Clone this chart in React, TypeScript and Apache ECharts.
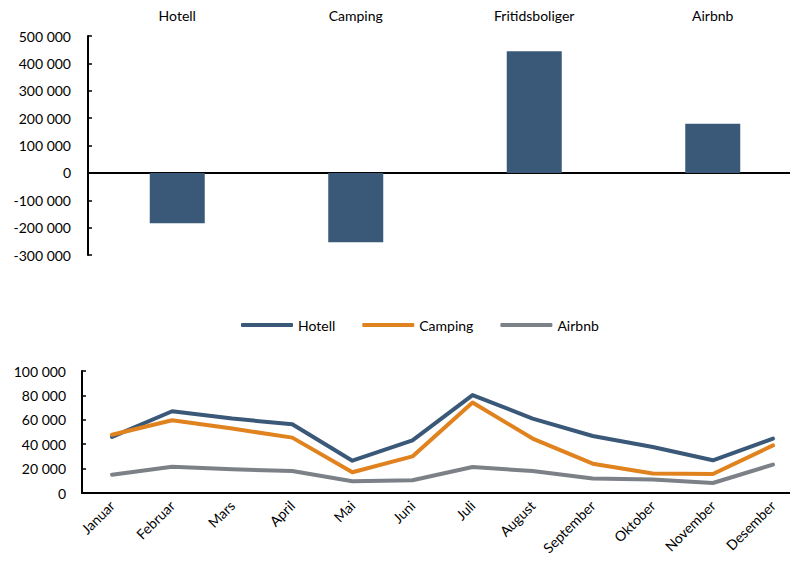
import React, { useEffect, useRef } from "react";
import * as echarts from "echarts";

const barCategories = ["Hotell", "Camping", "Fritidsboliger", "Airbnb"];
const barValues = [-184000, -253000, 444000, 179000];

const months = ["Januar", "Februar", "Mars", "April", "Mai", "Juni", "Juli", "August", "September", "Oktober", "November", "Desember"];
const hotell = [46000, 67000, 61000, 56300, 26500, 43200, 80300, 61000, 46700, 37700, 26800, 44600];
const camping = [47800, 59600, 52800, 45400, 17000, 30000, 74200, 44600, 24000, 16000, 15600, 39000];
const airbnb = [15000, 21600, 19400, 18000, 9600, 10400, 21300, 18000, 11800, 11000, 8200, 23300];

const FONT = "Lato";
const BLUE = "#3a5877";
const ORANGE = "#e0821e";
const GREY = "#7c8188";

const fmt = (v: number) => {
  const s = Math.abs(v).toString().replace(/\B(?=(\d{3})+(?!\d))/g, " ");
  return (v < 0 ? "-" : "") + s;
};

export default function App() {
  const ref = useRef<HTMLDivElement>(null);
  useEffect(() => {
    if (!ref.current) return;
    const chart = echarts.init(ref.current, null, { renderer: "svg" });
    const axisText = { fontFamily: FONT, fontSize: 14, color: "#000" };
    chart.setOption({
      animation: false,
      textStyle: { fontFamily: FONT },
      legend: {
        data: ["Hotell", "Camping", "Airbnb"],
        left: 236,
        top: 313,
        icon: "roundRect",
        itemWidth: 52,
        itemHeight: 4,
        itemGap: 27,
        textStyle: { ...axisText },
      },
      grid: [
        { left: 88, top: 36, width: 714, height: 219, containLabel: false, outerBoundsMode: "none" },
        { left: 82, top: 371, width: 721, height: 122, containLabel: false, outerBoundsMode: "none" },
      ],
      xAxis: [
        {
          type: "category",
          gridIndex: 0,
          data: barCategories,
          axisLine: { onZero: true, lineStyle: { color: "#000", width: 2 } },
          axisTick: { show: false },
          axisLabel: { show: false },
        },
        {
          type: "category",
          gridIndex: 0,
          position: "top",
          data: barCategories,
          axisLine: { show: false },
          axisTick: { show: false },
          axisLabel: { ...axisText, margin: 14 },
        },
        {
          type: "category",
          gridIndex: 1,
          data: months,
          axisLine: { lineStyle: { color: "#000", width: 2 } },
          axisTick: { show: false },
          axisLabel: { ...axisText, rotate: 45, margin: 10 },
        },
      ],
      yAxis: [
        {
          type: "value",
          gridIndex: 0,
          min: -300000,
          max: 500000,
          interval: 100000,
          splitLine: { show: false },
          axisLine: { show: true, lineStyle: { color: "#000", width: 2 } },
          axisTick: { show: true, inside: true, length: 4, lineStyle: { color: "#000", width: 1.5 } },
          axisLabel: { ...axisText, margin: 17, formatter: fmt },
        },
        {
          type: "value",
          gridIndex: 1,
          min: 0,
          max: 100000,
          interval: 20000,
          splitLine: { show: false },
          axisLine: { show: true, lineStyle: { color: "#000", width: 2 } },
          axisTick: { show: true, inside: true, length: 4, lineStyle: { color: "#000", width: 1.5 } },
          axisLabel: { ...axisText, margin: 16, formatter: fmt },
        },
      ],
      series: [
        {
          type: "bar",
          xAxisIndex: 0,
          yAxisIndex: 0,
          data: barValues,
          barWidth: 55,
          itemStyle: { color: BLUE },
        },
        {
          name: "Hotell",
          type: "line",
          xAxisIndex: 2,
          yAxisIndex: 1,
          data: hotell,
          symbol: "none",
          lineStyle: { color: BLUE, width: 4, cap: "round", join: "round" },
          itemStyle: { color: BLUE },
        },
        {
          name: "Camping",
          type: "line",
          xAxisIndex: 2,
          yAxisIndex: 1,
          data: camping,
          symbol: "none",
          lineStyle: { color: ORANGE, width: 4, cap: "round", join: "round" },
          itemStyle: { color: ORANGE },
        },
        {
          name: "Airbnb",
          type: "line",
          xAxisIndex: 2,
          yAxisIndex: 1,
          data: airbnb,
          symbol: "none",
          lineStyle: { color: GREY, width: 4, cap: "round", join: "round" },
          itemStyle: { color: GREY },
        },
      ],
    });
    return () => chart.dispose();
  }, []);
  return (
    <div
      ref={ref}
      style={{ position: "absolute", left: 0, top: 0, width: 790, height: 562, background: "#fff" }}
    />
  );
}
